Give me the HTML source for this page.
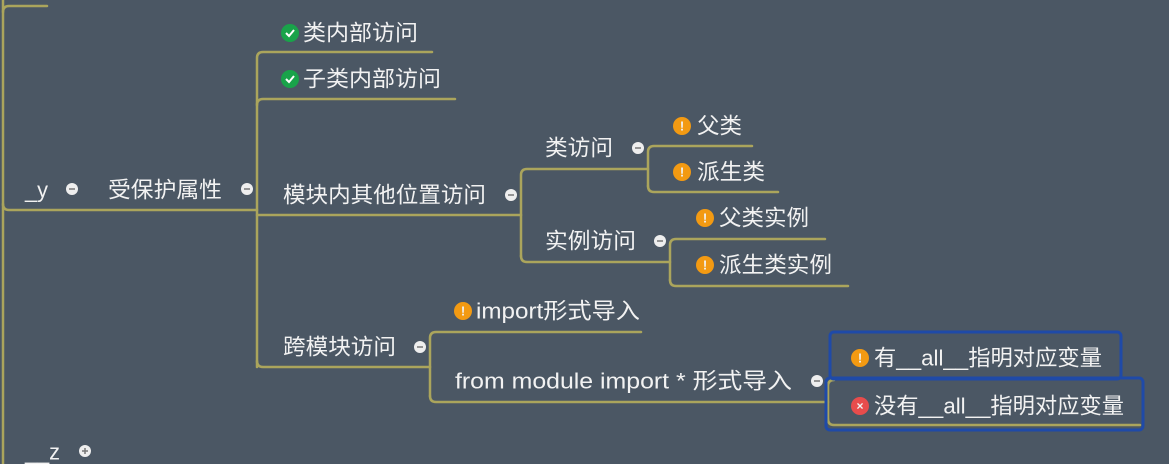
<!DOCTYPE html>
<html><head><meta charset="utf-8"><style>
html,body{margin:0;padding:0;background:#4b5764;}
svg{display:block}
text{font-family:"Liberation Sans","Noto Sans CJK SC",sans-serif;font-size:22px;fill:#f2f2f2;dominant-baseline:central}
</style></head><body>
<svg width="1169" height="464" viewBox="0 0 1169 464" xmlns="http://www.w3.org/2000/svg">
<rect width="1169" height="464" fill="#4b5764"/>
<g fill="none" stroke="#aba55c" stroke-width="2.5" stroke-linecap="round">
<path d="M3 0 V464"/>
<path d="M3 12 Q3 6 9 6 H47"/>
<path d="M3 204 Q3 210 9 210 H257"/>
<path d="M257 367 V58 Q257 52 263 52 H432"/>
<path d="M257 105 Q257 99 263 99 H455"/>
<path d="M257 215 H521"/>
<path d="M257 361 Q257 367 263 367 H430"/>
<path d="M521 256 V175 Q521 169 527 169 H648"/>
<path d="M521 256 Q521 262 527 262 H670"/>
<path d="M648 186 V152 Q648 146 654 146 H752"/>
<path d="M648 186 Q648 192 654 192 H778"/>
<path d="M670 280 V245 Q670 239 676 239 H825"/>
<path d="M670 280 Q670 286 676 286 H848"/>
<path d="M430 396 V338 Q430 332 436 332 H641"/>
<path d="M430 396 Q430 402 436 402 H828"/>
<path d="M828 419 V386 Q828 380 834 380"/>
<path d="M828 419 Q828 425 834 425 H1140"/>
</g>
<g fill="none" stroke="#1f4aa8" stroke-width="3">
<rect x="830" y="332" width="291" height="47" rx="4"/>
<rect x="826" y="378" width="317" height="52" rx="4"/>
</g>
<g>
<text x="25" y="190" textLength="23" lengthAdjust="spacingAndGlyphs">_y</text>
<text x="108" y="190" textLength="114" lengthAdjust="spacingAndGlyphs">受保护属性</text>
<text x="303" y="33" textLength="115" lengthAdjust="spacingAndGlyphs">类内部访问</text>
<text x="303" y="79" textLength="138" lengthAdjust="spacingAndGlyphs">子类内部访问</text>
<text x="283" y="195" textLength="203" lengthAdjust="spacingAndGlyphs">模块内其他位置访问</text>
<text x="545" y="148" textLength="68" lengthAdjust="spacingAndGlyphs">类访问</text>
<text x="545" y="241" textLength="91" lengthAdjust="spacingAndGlyphs">实例访问</text>
<text x="697" y="126" textLength="45" lengthAdjust="spacingAndGlyphs">父类</text>
<text x="697" y="172" textLength="68" lengthAdjust="spacingAndGlyphs">派生类</text>
<text x="719" y="218" textLength="90" lengthAdjust="spacingAndGlyphs">父类实例</text>
<text x="719" y="265" textLength="113" lengthAdjust="spacingAndGlyphs">派生类实例</text>
<text x="283" y="347" textLength="113" lengthAdjust="spacingAndGlyphs">跨模块访问</text>
<text x="476" y="311" textLength="164" lengthAdjust="spacingAndGlyphs">import形式导入</text>
<text x="455" y="381" textLength="337" lengthAdjust="spacingAndGlyphs">from module import * 形式导入</text>
<text x="874" y="358" textLength="228" lengthAdjust="spacingAndGlyphs">有__all__指明对应变量</text>
<text x="874" y="406" textLength="250" lengthAdjust="spacingAndGlyphs">没有__all__指明对应变量</text>
<text x="25" y="452" textLength="35" lengthAdjust="spacingAndGlyphs">__z</text>
</g>
<g>
<circle cx="290" cy="33" r="9" fill="#19a34a"/><path d="M286 33 l3 3 l5 -6" stroke="#fff" stroke-width="2" fill="none"/>
<circle cx="290" cy="79" r="9" fill="#19a34a"/><path d="M286 79 l3 3 l5 -6" stroke="#fff" stroke-width="2" fill="none"/>
</g>
<g>
<circle cx="682" cy="126" r="9" fill="#f39a12"/><text x="682" y="126" text-anchor="middle" style="font-size:13px;font-weight:bold">!</text>
<circle cx="682" cy="172" r="9" fill="#f39a12"/><text x="682" y="172" text-anchor="middle" style="font-size:13px;font-weight:bold">!</text>
<circle cx="705" cy="218" r="9" fill="#f39a12"/><text x="705" y="218" text-anchor="middle" style="font-size:13px;font-weight:bold">!</text>
<circle cx="705" cy="265" r="9" fill="#f39a12"/><text x="705" y="265" text-anchor="middle" style="font-size:13px;font-weight:bold">!</text>
<circle cx="463" cy="311" r="9" fill="#f39a12"/><text x="463" y="311" text-anchor="middle" style="font-size:13px;font-weight:bold">!</text>
<circle cx="860" cy="358" r="9" fill="#f39a12"/><text x="860" y="358" text-anchor="middle" style="font-size:13px;font-weight:bold">!</text>
<circle cx="860" cy="406" r="9" fill="#e84c4c"/><text x="860" y="406" text-anchor="middle" style="font-size:12px;font-weight:bold">×</text>
</g>
<g>
<g fill="#eeeeee"><circle cx="72" cy="189" r="6"/><circle cx="247" cy="189" r="6"/><circle cx="511" cy="195" r="6"/><circle cx="638" cy="148" r="6"/><circle cx="660" cy="241" r="6"/><circle cx="420" cy="347" r="6"/><circle cx="817" cy="381" r="6"/><circle cx="85" cy="451" r="6"/></g>
<g stroke="#777" stroke-width="1.5"><path d="M69 189h6M244 189h6M508 195h6M635 148h6M657 241h6M417 347h6M814 381h6M82 451h6M85 448v6"/></g>
</g>
</svg>
</body></html>
